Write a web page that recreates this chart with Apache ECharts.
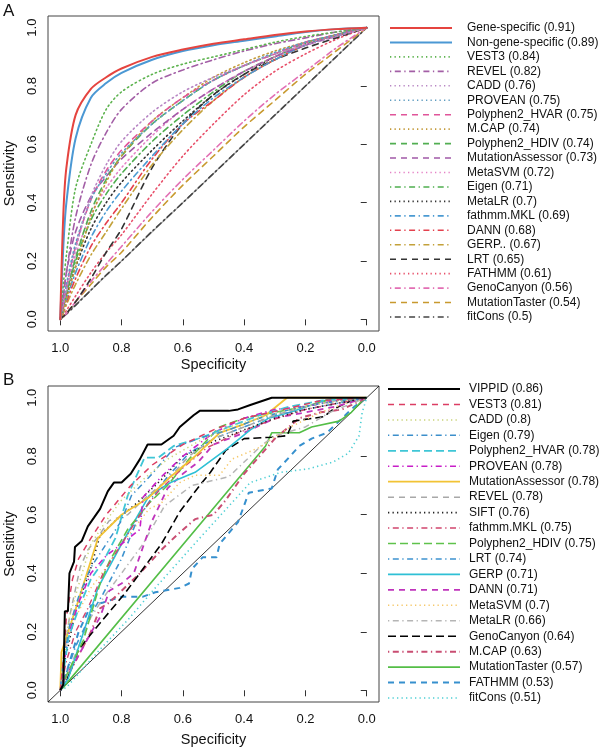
<!DOCTYPE html>
<html>
<head>
<meta charset="utf-8">
<script src="https://cdn.jsdelivr.net/npm/echarts@6/dist/echarts.min.js"></script>
<style>
html,body{margin:0;padding:0;background:#fff;}
#chart{width:612px;height:749px;}
</style>
</head>
<body>
<div id="chart"></div>
<script>
// ---------- DATA ----------
const tickValues = [0, 0.2, 0.4, 0.6, 0.8, 1.0];

// Panel A: sensitivity at shared specificity grid
const aSpec = [1, 0.99, 0.98, 0.95, 0.9, 0.85, 0.8, 0.7, 0.6, 0.5, 0.4, 0.3, 0.2, 0.1, 0];
const aGeneSpecific    = [0, 0.36, 0.52, 0.70, 0.79, 0.83, 0.86, 0.90, 0.925, 0.945, 0.96, 0.975, 0.987, 0.995, 1];
const aNonGeneSpecific = [0, 0.25, 0.40, 0.62, 0.76, 0.81, 0.845, 0.89, 0.92, 0.94, 0.955, 0.97, 0.985, 0.995, 1];
const aVEST3           = [0, 0.12, 0.22, 0.45, 0.60, 0.72, 0.78, 0.84, 0.875, 0.90, 0.925, 0.95, 0.97, 0.985, 1];
const aREVEL           = [0, 0.08, 0.16, 0.35, 0.53, 0.64, 0.72, 0.81, 0.855, 0.89, 0.92, 0.945, 0.965, 0.985, 1];
const aCADD            = [0, 0.05, 0.10, 0.24, 0.42, 0.53, 0.61, 0.71, 0.78, 0.83, 0.87, 0.91, 0.94, 0.97, 1];
const aPROVEAN         = [0, 0.06, 0.12, 0.26, 0.41, 0.50, 0.57, 0.67, 0.75, 0.82, 0.87, 0.915, 0.95, 0.975, 1];
const aPolyphen2HVAR   = [0, 0.05, 0.11, 0.25, 0.41, 0.51, 0.58, 0.68, 0.76, 0.82, 0.87, 0.91, 0.95, 0.975, 1];
const aMCAP            = [0, 0.03, 0.07, 0.18, 0.35, 0.47, 0.56, 0.68, 0.76, 0.83, 0.88, 0.92, 0.95, 0.975, 1];
const aPolyphen2HDIV   = [0, 0.04, 0.09, 0.21, 0.37, 0.48, 0.56, 0.67, 0.75, 0.82, 0.87, 0.91, 0.95, 0.975, 1];
const aMutationAssessor= [0, 0.08, 0.16, 0.30, 0.42, 0.49, 0.55, 0.64, 0.72, 0.79, 0.85, 0.90, 0.94, 0.97, 1];
const aMetaSVM         = [0, 0.05, 0.10, 0.22, 0.36, 0.45, 0.52, 0.63, 0.72, 0.79, 0.85, 0.90, 0.945, 0.975, 1];
const aEigen           = [0, 0.04, 0.09, 0.20, 0.34, 0.43, 0.50, 0.61, 0.70, 0.78, 0.85, 0.90, 0.945, 0.975, 1];
const aMetaLR          = [0, 0.04, 0.08, 0.18, 0.31, 0.40, 0.47, 0.58, 0.68, 0.77, 0.84, 0.90, 0.945, 0.975, 1];
const aFathmmMKL       = [0, 0.03, 0.07, 0.16, 0.28, 0.37, 0.44, 0.56, 0.67, 0.76, 0.83, 0.89, 0.94, 0.975, 1];
const aDANN            = [0, 0.03, 0.06, 0.14, 0.25, 0.33, 0.40, 0.55, 0.67, 0.75, 0.83, 0.89, 0.94, 0.975, 1];
const aGERP            = [0, 0.02, 0.05, 0.12, 0.22, 0.30, 0.38, 0.53, 0.65, 0.75, 0.83, 0.89, 0.94, 0.975, 1];
const aLRT             = [0, 0.01, 0.02, 0.06, 0.14, 0.23, 0.31, 0.52, 0.67, 0.77, 0.84, 0.89, 0.93, 0.965, 1];
const aFATHMM          = [0, 0.015, 0.03, 0.08, 0.16, 0.23, 0.29, 0.43, 0.56, 0.67, 0.77, 0.85, 0.91, 0.96, 1];
const aGenoCanyon      = [0, 0.01, 0.02, 0.06, 0.13, 0.19, 0.25, 0.37, 0.48, 0.58, 0.68, 0.77, 0.85, 0.93, 1];
const aMutationTaster  = [0, 0.01, 0.02, 0.06, 0.12, 0.18, 0.23, 0.35, 0.46, 0.56, 0.66, 0.75, 0.84, 0.92, 1];
const aFitCons         = [0, 0.008, 0.018, 0.048, 0.1, 0.152, 0.2, 0.302, 0.4, 0.5, 0.6, 0.7, 0.8, 0.9, 1];

const aLabels = ['Gene-specific (0.91)','Non-gene-specific (0.89)','VEST3 (0.84)','REVEL (0.82)','CADD (0.76)',
  'PROVEAN (0.75)','Polyphen2_HVAR (0.75)','M.CAP (0.74)','Polyphen2_HDIV (0.74)','MutationAssessor (0.73)',
  'MetaSVM (0.72)','Eigen (0.71)','MetaLR (0.7)','fathmm.MKL (0.69)','DANN (0.68)','GERP.. (0.67)','LRT (0.65)',
  'FATHMM (0.61)','GenoCanyon (0.56)','MutationTaster (0.54)','fitCons (0.5)'];

// Panel B: specificity / sensitivity pairs per method
const bVIPPID_spec = [1,0.99,0.985,0.975,0.97,0.955,0.952,0.93,0.91,0.89,0.87,0.845,0.825,0.8,0.77,0.74,0.715,0.67,0.63,0.61,0.565,0.545,0.45,0.42,0.38,0.31,0];
const bVIPPID_sens = [0,0.02,0.27,0.27,0.40,0.44,0.49,0.51,0.56,0.59,0.62,0.68,0.71,0.71,0.74,0.79,0.84,0.84,0.87,0.90,0.94,0.955,0.955,0.96,0.975,1,1];
const bVEST3_spec = [1,0.99,0.98,0.96,0.94,0.9,0.85,0.81,0.77,0.7,0.6,0.5,0.4,0.25,0.15,0];
const bVEST3_sens = [0,0.1,0.25,0.38,0.45,0.52,0.6,0.65,0.7,0.77,0.84,0.89,0.93,0.965,0.99,1];
const bCADD_spec = [1,0.99,0.97,0.94,0.9,0.85,0.8,0.73,0.65,0.55,0.45,0.35,0.25,0.15,0];
const bCADD_sens = [0,0.12,0.25,0.36,0.5,0.58,0.65,0.72,0.79,0.85,0.9,0.93,0.96,0.98,1];
const bEigen_spec = [1,0.99,0.97,0.94,0.9,0.85,0.8,0.768,0.7,0.627,0.55,0.45,0.35,0.25,0.15,0];
const bEigen_sens = [0,0.1,0.22,0.32,0.42,0.5,0.58,0.665,0.74,0.83,0.86,0.89,0.93,0.96,0.98,1];
const bHVAR_spec = [1,0.99,0.973,0.94,0.9,0.86,0.82,0.78,0.725,0.68,0.63,0.55,0.45,0.35,0.25,0.15,0];
const bHVAR_sens = [0,0.06,0.18,0.28,0.38,0.44,0.52,0.665,0.795,0.795,0.835,0.86,0.9,0.94,0.97,0.99,1];
const bPROVEAN_spec = [1,0.99,0.97,0.94,0.9,0.85,0.8,0.74,0.73,0.67,0.6,0.5,0.4,0.3,0.2,0.1,0];
const bPROVEAN_sens = [0,0.08,0.2,0.3,0.4,0.46,0.5,0.55,0.66,0.73,0.8,0.88,0.93,0.96,0.97,0.99,1];
const bMA_spec = [1,0.996,0.946,0.877,0.8,0.71,0.64,0.56,0.48,0.4,0.33,0.26,0];
const bMA_sens = [0,0.13,0.29,0.52,0.6,0.66,0.73,0.8,0.88,0.91,0.94,1,1];
const bREVEL_spec = [1,0.99,0.97,0.935,0.91,0.88,0.84,0.78,0.72,0.65,0.58,0.5,0.4,0.3,0.2,0.1,0];
const bREVEL_sens = [0,0.1,0.25,0.42,0.48,0.52,0.58,0.6,0.66,0.72,0.8,0.86,0.9,0.94,0.97,0.99,1];
const bSIFT_spec = [1,0.99,0.97,0.955,0.93,0.9,0.87,0.82,0.75,0.67,0.6,0.5,0.4,0.3,0.2,0.1,0];
const bSIFT_sens = [0,0.08,0.17,0.25,0.33,0.42,0.53,0.58,0.64,0.72,0.8,0.85,0.89,0.93,0.96,0.98,1];
const bMKL_spec = [1,0.98,0.95,0.91,0.86,0.8,0.74,0.68,0.6,0.52,0.42,0.32,0.2,0.1,0];
const bMKL_sens = [0,0.1,0.2,0.28,0.4,0.5,0.6,0.68,0.76,0.83,0.88,0.92,0.96,0.98,1];
const bHDIV_spec = [1,0.98,0.925,0.87,0.84,0.78,0.71,0.65,0.58,0.48,0.4,0.3,0.2,0.1,0];
const bHDIV_sens = [0,0.05,0.17,0.365,0.44,0.55,0.64,0.7,0.79,0.9,0.93,0.95,0.97,1,1];
const bLRT_spec = [1,0.98,0.95,0.9,0.86,0.8,0.75,0.7,0.65,0.58,0.5,0.4,0.3,0.2,0.1,0];
const bLRT_sens = [0,0.06,0.15,0.26,0.33,0.45,0.58,0.66,0.73,0.81,0.86,0.9,0.94,0.96,0.98,1];
const bGERP_spec = [1,0.974,0.93,0.877,0.8,0.71,0.64,0.56,0.455,0.38,0.32,0.25,0.11,0];
const bGERP_sens = [0,0.04,0.18,0.35,0.5,0.665,0.71,0.745,0.826,0.89,0.93,0.95,1,1];
const bDANN_spec = [1,0.98,0.94,0.89,0.87,0.84,0.8,0.76,0.73,0.7,0.65,0.6,0.55,0.5,0.4,0.3,0.2,0.1,0];
const bDANN_sens = [0,0.05,0.12,0.215,0.25,0.34,0.365,0.4,0.49,0.58,0.69,0.74,0.78,0.84,0.88,0.93,0.95,0.97,1];
const bMetaSVM_spec = [1,0.99,0.98,0.95,0.9,0.85,0.8,0.71,0.67,0.61,0.56,0.48,0.44,0.35,0.25,0.15,0.07,0];
const bMetaSVM_sens = [0,0.05,0.17,0.25,0.35,0.42,0.5,0.62,0.64,0.71,0.735,0.735,0.79,0.83,0.9,0.95,0.98,1];
const bMetaLR_spec = [1,0.98,0.94,0.9,0.85,0.8,0.73,0.66,0.57,0.53,0.45,0.4,0.34,0.3,0.2,0.12,0.05,0];
const bMetaLR_sens = [0,0.05,0.15,0.25,0.33,0.4,0.5,0.63,0.7,0.71,0.73,0.78,0.84,0.87,0.9,0.95,0.98,1];
const bGeno_spec = [1,0.98,0.94,0.87,0.79,0.67,0.61,0.545,0.51,0.46,0.4,0.31,0.26,0.24,0.14,0.11,0.05,0];
const bGeno_sens = [0,0.03,0.14,0.23,0.33,0.5,0.61,0.7,0.745,0.82,0.86,0.865,0.87,0.92,0.935,0.96,0.99,1];
const bMCAP_spec = [1,0.98,0.94,0.9,0.87,0.84,0.8,0.74,0.67,0.62,0.56,0.5,0.46,0.4,0.35,0.3,0.22,0.15,0.08,0];
const bMCAP_sens = [0,0.04,0.12,0.2,0.28,0.3,0.34,0.4,0.48,0.53,0.585,0.6,0.65,0.74,0.8,0.86,0.93,0.95,0.96,1];
const bMT_spec = [1,0.99,0.33,0.31,0.22,0.18,0.09,0.05,0.015,0];
const bMT_sens = [0,0.01,0.835,0.88,0.88,0.9,0.92,0.95,0.99,1];
const bFATHMM_spec = [1,0.98,0.94,0.9,0.86,0.8,0.73,0.69,0.61,0.58,0.57,0.535,0.49,0.48,0.42,0.385,0.31,0.29,0.25,0.22,0.18,0.13,0.09,0.04,0];
const bFATHMM_sens = [0,0.06,0.2,0.29,0.3,0.32,0.32,0.335,0.35,0.365,0.415,0.455,0.455,0.5,0.575,0.675,0.69,0.755,0.8,0.835,0.86,0.88,0.92,0.97,1];
const bFitCons_spec = [1,0.98,0.87,0.78,0.69,0.545,0.38,0.28,0.19,0.11,0.06,0.025,0.015,0];
const bFitCons_sens = [0,0.01,0.14,0.24,0.35,0.52,0.71,0.745,0.757,0.78,0.81,0.87,0.95,1];

const bLabels = ['VIPPID (0.86)','VEST3 (0.81)','CADD (0.8)','Eigen (0.79)','Polyphen2_HVAR (0.78)','PROVEAN (0.78)',
  'MutationAssessor (0.78)','REVEL (0.78)','SIFT (0.76)','fathmm.MKL (0.75)','Polyphen2_HDIV (0.75)','LRT (0.74)',
  'GERP (0.71)','DANN (0.71)','MetaSVM (0.7)','MetaLR (0.66)','GenoCanyon (0.64)','M.CAP (0.63)',
  'MutationTaster (0.57)','FATHMM (0.53)','fitCons (0.51)'];

// ---------- STYLES ----------
const DOT = [1.3, 3.2], DASH = [6, 5], DOTDASH = [1.3, 3.5, 6, 3.5], LDASH = [8, 4];
const aStyles = [
  {c:'#E5443F', d:null, w:2}, {c:'#4B98D4', d:null, w:2},
  {c:'#5DB34F', d:DOT, w:1.6}, {c:'#A35FA6', d:DOTDASH, w:1.6}, {c:'#B886C4', d:DOT, w:1.6},
  {c:'#5E9CC0', d:DOT, w:1.6}, {c:'#E0559A', d:DASH, w:1.6}, {c:'#C49A3A', d:DOT, w:1.6},
  {c:'#52AE52', d:DASH, w:1.6}, {c:'#A15AA8', d:DASH, w:1.6}, {c:'#E582C6', d:DOT, w:1.6},
  {c:'#4FAE4F', d:DOTDASH, w:1.6}, {c:'#333333', d:DOT, w:1.6}, {c:'#4B9AD2', d:DOTDASH, w:1.6},
  {c:'#E4414E', d:DOTDASH, w:1.6}, {c:'#C3A13A', d:DOTDASH, w:1.6}, {c:'#333333', d:DASH, w:1.6},
  {c:'#E8506A', d:DOT, w:1.6}, {c:'#E26FB4', d:DOTDASH, w:1.6}, {c:'#C8992E', d:DASH, w:1.6},
  {c:'#444444', d:DOTDASH, w:1.6}
];
const aData = [aGeneSpecific,aNonGeneSpecific,aVEST3,aREVEL,aCADD,aPROVEAN,aPolyphen2HVAR,aMCAP,aPolyphen2HDIV,
  aMutationAssessor,aMetaSVM,aEigen,aMetaLR,aFathmmMKL,aDANN,aGERP,aLRT,aFATHMM,aGenoCanyon,aMutationTaster,aFitCons];

const bStyles = [
  {c:'#000000', d:null, w:2}, {c:'#DC3D63', d:DASH, w:1.5}, {c:'#C9D37A', d:DOT, w:1.5},
  {c:'#3C8FCB', d:DOTDASH, w:1.5}, {c:'#3FC6D6', d:LDASH, w:1.8}, {c:'#C81EC8', d:DOTDASH, w:1.6},
  {c:'#F2C335', d:null, w:1.8}, {c:'#A8A8A8', d:DASH, w:1.5}, {c:'#222222', d:DOT, w:1.6},
  {c:'#D1466E', d:DOTDASH, w:1.4}, {c:'#5FC24B', d:LDASH, w:1.6}, {c:'#3E93CF', d:DOTDASH, w:1.6},
  {c:'#2EC0D5', d:null, w:1.6}, {c:'#C034BC', d:DASH, w:1.8}, {c:'#F5C86A', d:DOT, w:1.5},
  {c:'#B5B5B5', d:DOTDASH, w:1.5}, {c:'#000000', d:LDASH, w:1.6}, {c:'#C94D72', d:DOTDASH, w:2},
  {c:'#54BE47', d:null, w:1.6}, {c:'#3690CE', d:DASH, w:2}, {c:'#4ECFD4', d:DOT, w:1.6}
];
const bData = [
  [bVIPPID_spec,bVIPPID_sens],[bVEST3_spec,bVEST3_sens],[bCADD_spec,bCADD_sens],[bEigen_spec,bEigen_sens],
  [bHVAR_spec,bHVAR_sens],[bPROVEAN_spec,bPROVEAN_sens],[bMA_spec,bMA_sens],[bREVEL_spec,bREVEL_sens],
  [bSIFT_spec,bSIFT_sens],[bMKL_spec,bMKL_sens],[bHDIV_spec,bHDIV_sens],[bLRT_spec,bLRT_sens],
  [bGERP_spec,bGERP_sens],[bDANN_spec,bDANN_sens],[bMetaSVM_spec,bMetaSVM_sens],[bMetaLR_spec,bMetaLR_sens],
  [bGeno_spec,bGeno_sens],[bMCAP_spec,bMCAP_sens],[bMT_spec,bMT_sens],[bFATHMM_spec,bFATHMM_sens],
  [bFitCons_spec,bFitCons_sens]
];

// ---------- CHART ----------
const FONT = '"Liberation Sans", Arial, Helvetica, sans-serif';
const chart = echarts.init(document.getElementById('chart'), null, {renderer:'canvas'});

function xAx(gi, gap){
  return {
    gridIndex: gi, type:'value', min:-0.04, max:1.04, inverse:true,
    axisLine:{show:false}, splitLine:{show:false},
    axisTick:{show:true, length:6, inside:false, customValues: tickValues, lineStyle:{color:'#333', width:1}},
    axisLabel:{show:true, customValues: tickValues, formatter: v => v.toFixed(1), fontSize:13, color:'#111', margin:11, fontFamily:FONT},
    name:'Specificity', nameLocation:'middle', nameGap:gap,
    nameTextStyle:{fontSize:14.5, color:'#111', fontFamily:FONT}
  };
}
function yAx(gi){
  return {
    gridIndex: gi, type:'value', min:-0.04, max:1.04,
    axisLine:{show:false}, splitLine:{show:false},
    axisTick:{show:true, length:6, inside:false, customValues: tickValues, lineStyle:{color:'#333', width:1}},
    axisLabel:{show:true, customValues: tickValues, formatter: v => v.toFixed(1), fontSize:13, color:'#111', margin:9, rotate:90, fontFamily:FONT},
    name:'Sensitivity', nameLocation:'middle', nameGap:31,
    nameTextStyle:{fontSize:14.5, color:'#111', fontFamily:FONT}
  };
}

const series = [];
series.push({type:'line', xAxisIndex:0, yAxisIndex:0, data:[[1,0],[0,1]], symbol:'none', silent:true,
  lineStyle:{color:'#B0B0B0', width:1.3}, z:1});
for (let i = aData.length-1; i >= 0; i--) {
  const st = aStyles[i];
  series.push({type:'line', name:aLabels[i], xAxisIndex:0, yAxisIndex:0, symbol:'none',
    smooth:0.3,
    data: aSpec.map((s,k)=>[s, aData[i][k]]),
    lineStyle:{color:st.c, width:st.w, type: st.d ? st.d : 'solid', cap:'round'}, z:2});
}
series.push({type:'line', xAxisIndex:1, yAxisIndex:1, data:[[1.04,-0.04],[-0.04,1.04]], symbol:'none', silent:true,
  lineStyle:{color:'#000', width:0.8}, z:1});
for (let i = bData.length-1; i >= 0; i--) {
  const st = bStyles[i];
  const sp = bData[i][0], se = bData[i][1];
  series.push({type:'line', name:bLabels[i], xAxisIndex:1, yAxisIndex:1, symbol:'none',
    data: sp.map((s,k)=>[s, se[k]]),
    lineStyle:{color:st.c, width:st.w, type: st.d ? st.d : 'solid'}, z:2});
}

// legends as graphics
const graphic = [];
function addLegend(labels, styles, y0, dy, lx1, lx2, tx){
  labels.forEach((lab, i) => {
    const y = y0 + i*dy;
    const st = styles[i];
    graphic.push({type:'line', shape:{x1:lx1, y1:y, x2:lx2, y2:y},
      style:{stroke:st.c, lineWidth:st.w, lineDash: st.d ? st.d : null}});
    graphic.push({type:'text', x:tx, y:y, style:{text:lab, fontSize:12, fontFamily:FONT, fill:'#111',
      verticalAlign:'middle', textVerticalAlign:'middle', align:'left'}});
  });
}
addLegend(aLabels, aStyles, 28, 14.45, 390, 452, 467);
addLegend(bLabels, bStyles, 389, 15.45, 388, 460, 469);
graphic.push({type:'text', x:3, y:11, style:{text:'A', fontSize:17, fontFamily:FONT, fill:'#111', verticalAlign:'middle', textVerticalAlign:'middle'}});
graphic.push({type:'text', x:3, y:380, style:{text:'B', fontSize:17, fontFamily:FONT, fill:'#111', verticalAlign:'middle', textVerticalAlign:'middle'}});

chart.setOption({
  animation:false,
  backgroundColor:'#fff',
  grid:[
    {left:48, top:16, width:331, height:315, show:true, borderColor:'#444', borderWidth:1, backgroundColor:'transparent',
     containLabel:false, outerBoundsMode:'none'},
    {left:48, top:386, width:331, height:316, show:true, borderColor:'#444', borderWidth:1, backgroundColor:'transparent',
     containLabel:false, outerBoundsMode:'none'}
  ],
  xAxis:[xAx(0, 26), xAx(1, 30)],
  yAxis:[yAx(0), yAx(1)],
  series: series,
  graphic: graphic
});
</script>
</body>
</html>
